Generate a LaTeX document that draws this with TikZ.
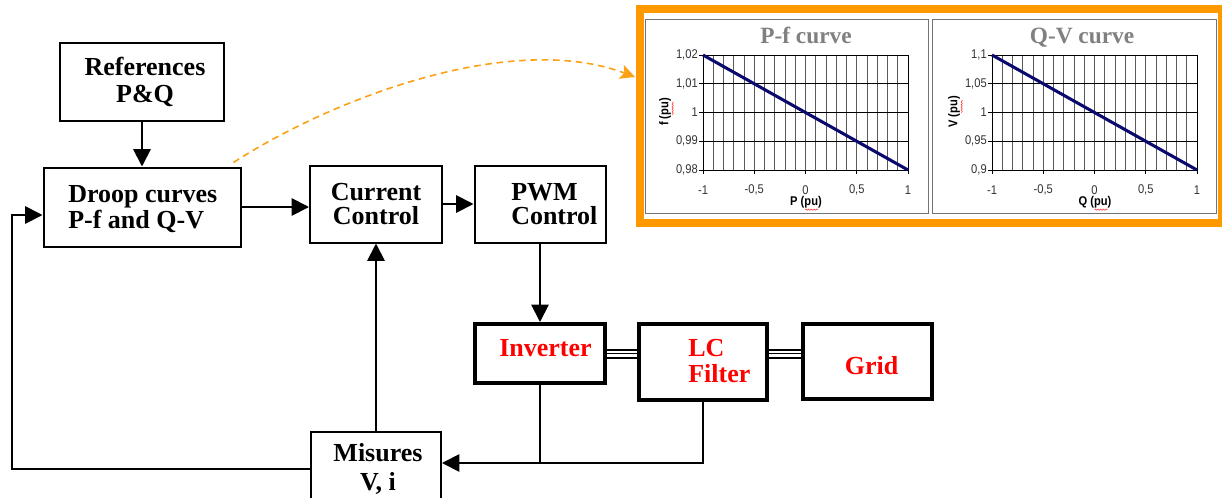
\documentclass[tikz,border=0pt]{standalone}
\usepackage{fontspec}
\setmainfont{Liberation Serif}
\newfontfamily\arialn[FakeStretch=0.88]{Liberation Sans}
\usetikzlibrary{arrows.meta,calc,decorations.pathmorphing}
\definecolor{frameorange}{RGB}{255,153,0}
\definecolor{dashorange}{RGB}{252,160,20}
\definecolor{curvenavy}{RGB}{10,10,110}
\definecolor{titlegray}{RGB}{128,128,128}
\def\pxu{0.75pt}
\tikzset{
  box/.style={draw, line width=1.5pt, inner sep=0pt, fill=white},
  thickbox/.style={box, line width=3pt},
  lbl/.style={inner sep=0pt, font=\bfseries\fontsize{19.5}{19.5}\selectfont},
  redlbl/.style={lbl, text=red},
  conn/.style={line width=1.4pt},
  arr/.style={conn, -{Triangle[length=13pt,width=13pt]}},
  triline/.style={line width=2.1pt},
  midline/.style={line width=1.1pt},
  gridv/.style={black!65, line width=0.6pt},
  gridh/.style={black, line width=0.6pt},
  ticklbl/.style={inner sep=0pt, text=black!80, font=\arialn\fontsize{9.5}{9.5}\selectfont},
  axtitle/.style={inner sep=0pt, font=\arialn\bfseries\fontsize{9.5}{9.5}\selectfont},
  charttitle/.style={inner sep=0pt, text=titlegray, font=\bfseries\fontsize{17.5}{17.5}\selectfont},
  spell/.style={red!80, line width=0.4pt, decorate, decoration={snake, amplitude=0.5pt, segment length=2pt}},
  droopdash/.style={dashorange, line width=1.2pt, dash pattern=on 5pt off 3.5pt, -{Stealth[length=11pt,width=11pt,inset=2.5pt]}}
}
\newcommand\mychart[9]{%
  \draw[gridv] \foreach \i in {1,...,19} {(#1+\i*10.25,55) -- (#1+\i*10.25,170)};
  \draw[gridh] \foreach \j in {1,2,3} {(#1,55+\j*28.75) -- (#1+205,55+\j*28.75)};
  \draw[black, line width=0.75pt] (#1,55) rectangle (#1+205,170);
  \draw[black, line width=0.6pt] \foreach \j in {0,...,4} {(#1-4,55+\j*28.75) -- (#1,55+\j*28.75)};
  \draw[black, line width=0.6pt] \foreach \k in {0,...,4} {(#1+\k*51.25,170) -- (#1+\k*51.25,174)};
  \node[ticklbl, anchor=east] (yl#5a) at (#1-5,55) {#6};
  \node[ticklbl, anchor=east] (yl#5b) at (#1-5,83.75) {#7};
  \node[ticklbl, anchor=east] (yl#5c) at (#1-5,112.5) {1};
  \node[ticklbl, anchor=east] (yl#5d) at (#1-5,141.25) {#8};
  \node[ticklbl, anchor=east] (yl#5e) at (#1-5,170) {#9};
  \node[ticklbl] (xl#5a) at (#1,190) {-1};
  \node[ticklbl] (xl#5b) at (#1+51.25,190) {-0,5};
  \node[ticklbl] (xl#5c) at (#1+102.5,190) {0};
  \node[ticklbl] (xl#5d) at (#1+153.75,190) {0,5};
  \node[ticklbl] (xl#5e) at (#1+205,190) {1};
  \draw[curvenavy, line width=2.3pt] (#1,55) -- (#1+205,170);
  \node[charttitle, anchor=base] (title#5) at (#3,43) {#2};
  \node[axtitle] (xt#5) at (#1+103,202) {#5 (pu)};
  \node[axtitle, rotate=90] (yt#5) at (#1-38,112) {#4 (pu)};
  \draw[spell] ($(xt#5.south east)+(-17,1.5)$) -- ($(xt#5.south east)+(-4,1.5)$);
  \draw[spell] ($(yt#5.south east)+(1.5,4)$) -- ($(yt#5.south east)+(1.5,17)$);
}
\begin{document}
\begin{tikzpicture}[x=0.75pt, y=-0.75pt]
\useasboundingbox (0,0) rectangle (1222,497);

% ---- charts panel ----
\node[draw=frameorange, line width=6pt, fill=white, inner sep=0pt,
      minimum width=582*\pxu, minimum height=214*\pxu] (charts) at (931,116) {};
\draw[black!55, line width=0.75pt] (645.5,19.5) rectangle (928.5,213);
\draw[black!55, line width=0.75pt] (932.5,19.5) rectangle (1216.5,213);
\mychart{703}{P-f curve}{806}{f}{P}{1,02}{1,01}{0,99}{0,98}
\mychart{992}{Q-V curve}{1082}{V}{Q}{1,1}{1,05}{0,95}{0,9}

% ---- blocks ----
\node[box, minimum width=164*\pxu, minimum height=78*\pxu] (ref) at (142,81.5) {};
\node[box, minimum width=197*\pxu, minimum height=79*\pxu] (droop) at (142,207) {};
\node[box, minimum width=132*\pxu, minimum height=77*\pxu] (cur) at (376,204) {};
\node[box, minimum width=131*\pxu, minimum height=77*\pxu] (pwm) at (540,204) {};
\node[thickbox, minimum width=130*\pxu, minimum height=59*\pxu] (inv) at (540,353.5) {};
\node[thickbox, minimum width=128*\pxu, minimum height=76*\pxu] (lc) at (703,362) {};
\node[thickbox, minimum width=129*\pxu, minimum height=75*\pxu] (grid) at (867.5,361.5) {};
\node[box, minimum width=130*\pxu, minimum height=76*\pxu] (mis) at (376,470) {};

% ---- texts (base anchor = baseline of the last line) ----
\node[lbl, align=center, anchor=base, font=\bfseries\fontsize{19.5}{20.25}\selectfont] (reft) at (145,102) {References\\P\&Q};
\node[lbl, align=left, anchor=base west] (droopt) at (68,228) {Droop curves\\P-f and Q-V};
\node[lbl, align=center, anchor=base, font=\bfseries\fontsize{19.5}{18}\selectfont] (curt) at (376,224) {Current\\Control};
\node[lbl, align=left, anchor=base west, font=\bfseries\fontsize{19.5}{18}\selectfont] (pwmt) at (511,224) {PWM\\Control};
\node[redlbl, anchor=base] (invt) at (545.5,356) {Inverter};
\node[redlbl, align=left, anchor=base west] (lct) at (688,382) {LC\\Filter};
\node[redlbl, anchor=base] (gridt) at (871.5,374) {Grid};
\node[lbl, align=center, anchor=base, font=\bfseries\fontsize{19.5}{21.75}\selectfont] (mist) at (378,490) {Misures\\V, i};

% ---- connectors ----
\draw[arr] (ref.south) -- (droop.north);
\draw[arr] (droop.east) -- (droop.east -| cur.west);
\draw[arr] (cur.east) -- (cur.east -| pwm.west);
\draw[arr] (pwm.south) -- (inv.north);
\draw[arr] (mis.north) -- (cur.south);

\foreach \dy/\st in {2.6pt/triline, 0pt/midline, -3.4pt/triline} {
  \draw[\st] ([yshift=\dy]inv.east) -- ([yshift=\dy]inv.east -| lc.west);
  \draw[\st] ([yshift=\dy]inv.east -| lc.east) -- ([yshift=\dy]inv.east -| grid.west);
}

\coordinate (bus) at (540,463);
\draw[conn] (inv.south) -- (inv.south |- bus);
\draw[arr] (lc.south) -- (lc.south |- bus) -- (bus -| mis.east);

\coordinate (fbx) at (12,215);
\draw[arr] (mis.west |- 0,469) -- (fbx |- 0,469) -- (fbx) -- (fbx -| droop.west);

\coordinate (tip) at (635,77);
\draw[droopdash] ($(droop.north east)+(-8,-4)$) .. controls (330,100) and (510,30) .. (tip);
\end{tikzpicture}
\end{document}
